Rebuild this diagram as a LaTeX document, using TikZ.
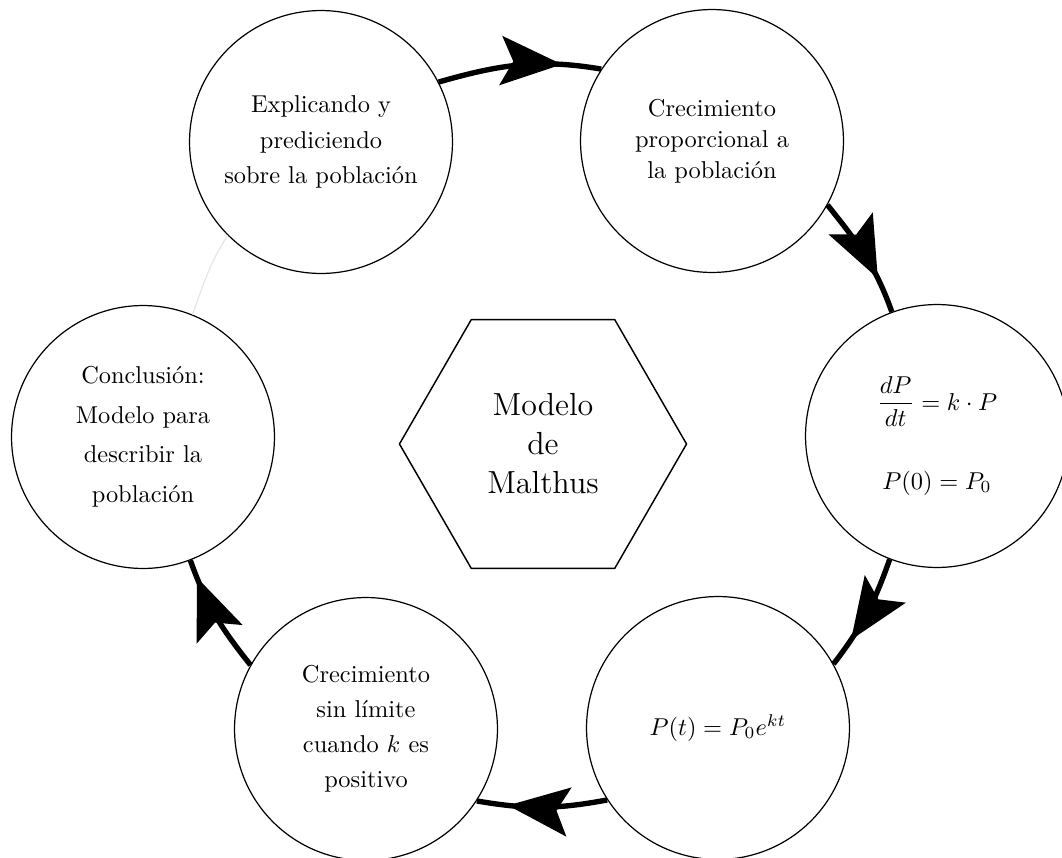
\documentclass[tikz,border=0pt]{standalone}
\usepackage{amsmath}
\usetikzlibrary{arrows.meta,decorations.markings,shapes.geometric}
\begin{document}
\begin{tikzpicture}[x=0.41pt,y=-0.41pt,
  bubble/.style={draw, circle, line width=0.5pt, minimum size=107.8pt,
    inner sep=0pt, align=center, font=\fontsize{10}{14.5}\selectfont},
  hub/.style={draw, regular polygon, regular polygon sides=6,
    minimum size=117.7pt, inner sep=0pt, line width=0.6pt, align=center,
    font=\fontsize{13.1}{16}\selectfont},
  flow/.style={line width=2.2pt, postaction={decorate},
    decoration={markings, mark=at position #1 with
      {\arrow{Stealth[length=25pt,width=20pt,inset=5pt]}}}},
  faint/.style={draw=black!10, line width=0.5pt},
]
\useasboundingbox (0,0) rectangle (1062,858);

% central hexagon
\node[hub] (H) at (543,444) {Modelo\\de\\Malthus};

% the six stages of the cycle
\node[bubble, font=\fontsize{10}{14.6}\selectfont] (A) at (321,142)
  {Explicando y\\prediciendo\\sobre la población};
\node[bubble, font=\fontsize{10}{12.7}\selectfont] (B) at (712,141)
  {Crecimiento\\proporcional a\\la población};
\node[bubble] (C) at (937,436)
  {$\dfrac{dP}{dt}=k\cdot P$\\[18pt]$P(0)=P_0$};
\node[bubble] (D) at (718,728) {$P(t)=P_0e^{kt}$};
\node[bubble, font=\fontsize{10}{14.3}\selectfont] (E) at (366,729)
  {Crecimiento\\sin límite\\cuando $k$ es\\positivo};
\node[bubble, font=\fontsize{10}{16.2}\selectfont] (F) at (143,437)
  {Conclusión:\\Modelo para\\describir la\\población};

% arcs of the cycle, running clockwise
\draw[flow=0.76] (A.27.8)  to[out=16,    in=170.4] (B.147.7);
\draw[flow=0.71] (B.331.4) to[out=-51.3, in=109.5] (C.110.9);
\draw[flow=0.75] (C.249.1) to[out=-109.3,in=52.4]  (D.29.9);
\draw[flow=0.76] (D.213.1) to[out=190.6, in=-9.8]  (E.327.2);
\draw[flow=0.85] (E.151.7) to[out=128.6, in=-70.4] (F.291.5);
\draw[faint]     (F.68.8)  to[out=70.2,  in=237.7] (A.225.7);
\end{tikzpicture}
\end{document}
